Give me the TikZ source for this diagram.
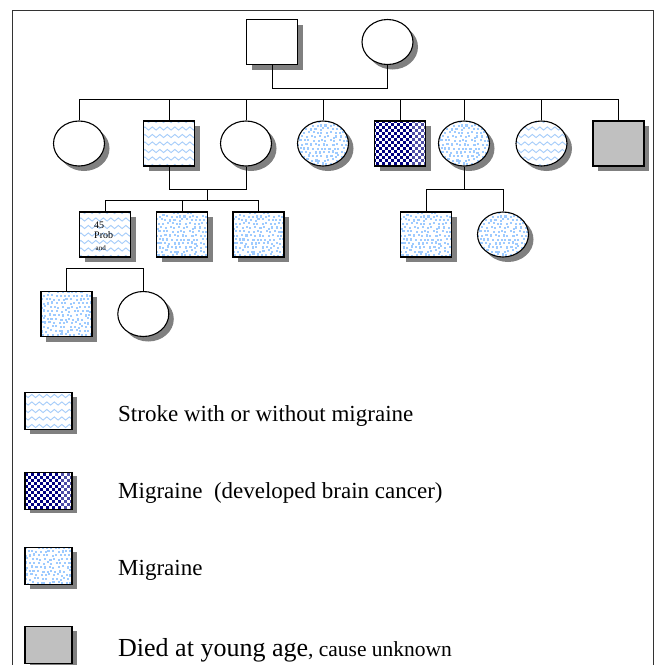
\documentclass[tikz,border=0pt]{standalone}
\usepackage{fontspec}
\setmainfont{Liberation Serif}
\usetikzlibrary{shapes.geometric,shadows,decorations.pathmorphing,calc}
\definecolor{wavec}{HTML}{A6CDFA}
\definecolor{dotc}{HTML}{9ECBFF}
\definecolor{navyc}{HTML}{000080}
\definecolor{diedgray}{HTML}{C0C0C0}
\definecolor{shadowc}{HTML}{808080}
\newcommand\wavefill{%
  \begin{scope}[shift={(path picture bounding box.center)}]
    \foreach \k in {-4,...,4}{
      \draw[wavec, line width=0.9pt, decorate, decoration={snake, amplitude=1.6pt, segment length=7.5pt}] (-34,\k*7.5) -- (34,\k*7.5);
    }
  \end{scope}}
\newcommand\dotfillpat{%
  \begin{scope}[shift={(path picture bounding box.center)}]
    \pgfmathsetseed{7}
    \foreach \i in {-7,...,7}{
      \foreach \j in {-7,...,7}{
        \pgfmathsetmacro\rx{\i*4.3+rand*1.1+mod(\j,2)*2.1}
        \pgfmathsetmacro\ry{\j*3.9+rand*0.9}
        \fill[dotc] (\rx,\ry) rectangle ++(2.1,2.1);
      }
    }
  \end{scope}}
\newcommand\checkfill{%
  \begin{scope}[shift={(path picture bounding box.center)}]
    \foreach \i in {-10,...,10}{
      \foreach \j in {-9,...,9}{
        \pgfmathtruncatemacro\pq{mod(\i+\j+40,2)}
        \ifnum\pq=0 \fill[navyc] (\i*3,\j*3) rectangle ++(3,3);\fi
      }
    }
    \fill[white, opacity=0.3] (12,-30) rectangle (30,30);
  \end{scope}}
\tikzset{
  ped/.style={draw=black, fill=white, line width=1.1pt,
    drop shadow={shadow xshift=5pt, shadow yshift=-5pt, fill=shadowc, opacity=1}},
  msq/.style={ped, rectangle, minimum width=51pt, minimum height=45pt, inner sep=0pt},
  fel/.style={ped, ellipse, minimum width=51pt, minimum height=45pt, inner sep=0pt},
  legbox/.style={draw=black, fill=white, line width=1.1pt, rectangle, minimum width=47pt, minimum height=37pt, inner sep=0pt,
    drop shadow={shadow xshift=4.5pt, shadow yshift=-4pt, fill=shadowc, opacity=1}},
  wavy/.style={path picture={\wavefill}},
  dotty/.style={path picture={\dotfillpat}},
  checky/.style={path picture={\checkfill}},
  died/.style={fill=diedgray},
  link/.style={draw=black, line width=1pt},
  legtext/.style={anchor=base west, inner sep=0pt, font=\fontsize{23}{27}\selectfont},
  pbtext/.style={anchor=base west, inner sep=0pt},
}
\begin{document}
\begin{tikzpicture}[x=1pt, y=-1pt]
\useasboundingbox (0,0) rectangle (660,665);
% frame
\draw[line width=1pt, black!80] (12,665) -- (12,10) -- (653,10) -- (653,665);

% generation I
\node[msq] (g1m) at (272,42) {};
\node[fel] (g1f) at (387.5,42) {};
% generation II
\node[fel] (c1) at (79,143.5) {};
\node[msq, wavy] (c2) at (169,143.5) {};
\node[fel] (c3) at (246,143.5) {};
\node[fel, dotty] (c4) at (323,143.5) {};
\node[msq, checky] (c5) at (400,143.5) {};
\node[fel, dotty] (c6) at (464,143.5) {};
\node[fel, wavy] (c7) at (541.5,143.5) {};
\node[msq, died] (c8) at (618.5,143.5) {};
% generation III
\node[msq, wavy] (g3a) at (105,234.5) {};
\node[msq, dotty] (g3b) at (182,234.5) {};
\node[msq, dotty] (g3c) at (258.5,234.5) {};
\node[msq, dotty] (g3d) at (426,234.5) {};
\node[fel, dotty] (g3e) at (503,234.5) {};
% generation IV
\node[msq, dotty] (g4a) at (66.5,314) {};
\node[fel] (g4b) at (143.3,314) {};

% proband text
\node[pbtext, font=\fontsize{10}{10}\selectfont] (pb1) at (94,228) {45};
\node[pbtext, font=\fontsize{10}{10}\selectfont] (pb2) at (94,238.5) {Prob};
\node[pbtext, font=\fontsize{7}{7}\selectfont] (pb3) at (95.5,250) {and};

% connectors
\coordinate (m1) at (330,88);
\coordinate (s1) at (330,99);
\coordinate (m2) at (207.5,189.3);
\coordinate (s2) at (207.5,200);
\coordinate (s3) at (464,189.3);
\coordinate (s4) at (105,268.3);

\draw[link] (g1m.south) -- (g1m.south |- m1) -- (g1f.south |- m1) -- (g1f.south);
\draw[link] (c1.north |- s1) -- (c8.north |- s1);
\foreach \c in {c1,c2,c3,c4,c5,c6,c7,c8}{
  \draw[link] (\c.north) -- (\c.north |- s1);
}
\draw[link] (c2.south) -- (c2.south |- m2) -- (c3.south |- m2) -- (c3.south);
\draw[link] (m2) -- (s2);
\draw[link] (g3a.north |- s2) -- (g3c.north |- s2);
\foreach \c in {g3a,g3b,g3c}{
  \draw[link] (\c.north) -- (\c.north |- s2);
}
\draw[link] (c6.south) -- (s3);
\draw[link] (g3d.north |- s3) -- (g3e.north |- s3);
\foreach \c in {g3d,g3e}{
  \draw[link] (\c.north) -- (\c.north |- s3);
}
\draw[link] (g4a.north |- s4) -- (g4b.north |- s4);
\foreach \c in {g4a,g4b}{
  \draw[link] (\c.north) -- (\c.north |- s4);
}

% legend
\node[legbox, wavy] (l1) at (48.5,411) {};
\node[legbox, checky] (l2) at (48.5,490.7) {};
\node[legbox, dotty] (l3) at (48.5,566) {};
\node[legbox, died] (l4) at (48.5,645) {};
\node[legtext] (t1) at (118,421.7) {Stroke with or without migraine};
\node[legtext] (t2) at (118,498.3) {Migraine\ \ (developed brain cancer)};
\node[legtext] (t3) at (118,575) {Migraine};
\node[legtext, font=\fontsize{26}{30}\selectfont] (t4) at (118,656) {Died at young age{\fontsize{21.5}{25}\selectfont, cause unknown}};
\end{tikzpicture}
\end{document}
